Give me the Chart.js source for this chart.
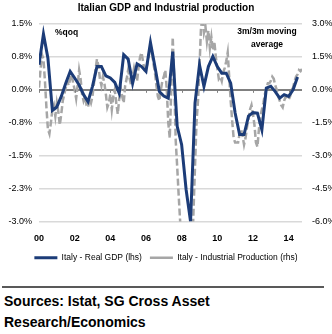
<!DOCTYPE html>
<html>
<head>
<meta charset="utf-8">
<script src="https://cdn.jsdelivr.net/npm/chart.js@4/dist/chart.umd.min.js"></script>
<style>
  body { margin: 0; background: #fff; width: 332px; height: 334px; overflow: hidden; }
  #wrap { position: relative; width: 332px; height: 276px; }
  #rule { position: absolute; left: 2px; top: 286px; width: 322px; height: 2px; background: #595959; }
  #src { position: absolute; left: 4px; top: 291px; font: bold 14px "Liberation Sans", Arial, sans-serif; line-height: 21px; color: #000; }
</style>
</head>
<body>
<div id="wrap"><canvas id="chart" width="332" height="276"></canvas></div>
<div id="rule"></div>
<div id="src">Sources: Istat, SG Cross Asset<br>Research/Economics</div>
<script>
// Italy real GDP, % q/q, 2000Q1 .. 2014Q3
const gdpStart = 2000;
const gdp = [
  0.57, 1.27, 0.72, -0.47, -0.39, -0.15, 0.15, 0.42,
  0.27, 0.11, -0.11, -0.27, 0.08, 0.53, 0.53, 0.32,
  0.27, 0.17, -0.08, 0.80, 0.70, 0.15, 0.59, 0.53,
  0.42, 1.08, 0.53, -0.04, -0.14, -0.19, 0.87, -0.83,
  -1.25, -2.27, -3.00, -0.30, 0.57, 0.08, 0.53, 0.76,
  0.53, 0.38, 0.38, 0.15, -0.53, -1.02, -1.02, -0.60,
  -0.52, -0.53, -0.91, 0.04, 0.08, -0.04, -0.19, -0.11,
  -0.15, 0.00, 0.29
];

// Italy industrial production, 3m/3m moving average, Jan 2000 .. Oct 2014
const ipStart = 2000;
const ip = [
  0.1, 0.9, 1.6, 1.4, 0.4, -0.8, -1.8, -2.0, -1.5, -0.9, -0.7, -1.2,
  -0.6, -1.0, -1.6, -1.1, -0.5, -0.2, 0.1, 0.4, 0.2, 0.5, 0.7, 0.3,
  0.0, -0.4, 0.2, 0.9, 0.5, -0.2, -0.5, -0.3, -0.7, -0.8, -0.4, -0.6,
  -0.3, 0.3, 0.9, 1.4, 1.1, 0.5, 0.2, 0.6, 0.3, -0.2, -0.8, -0.6,
  -0.2, -0.9, -0.3, 0.0, -0.6, -1.1, -0.4, 0.1, -0.3, -0.6, 0.2, 0.5,
  0.9, 0.5, 0.2, 0.6, 1.0, 0.7, 0.4, 1.0, 1.5, 1.7, 1.3, 0.9,
  0.9, 1.2, 1.6, 2.0, 1.7, 1.2, 0.8, 0.2, -0.3, -0.5, 0.0, 0.4,
  0.6, 0.9, 0.0, -1.5, -2.2, 0.0, 2.4, 0.5, -2.3, -3.5, -4.8, -6.0,
  -7.5, -9.0, -10.0, -11.0, -11.0, -10.0, -9.0, -7.5, -5.5, -3.5, -1.5, -0.5,
  1.0, 2.8, 3.3, 2.6, 2.9, 2.2, 2.7, 1.9, 2.4, 1.8, 2.2, 1.5,
  1.0, 0.5, 0.6, 0.4, 0.8, 1.0, 1.3, 1.7, 0.6, -0.5, -1.4, -2.2,
  -2.4, -2.4, -2.4, -2.0, -1.8, -2.1, -2.5, -2.2, -1.7, -1.3, -0.9, -0.7,
  -1.1, -1.6, -2.4, -2.6, -1.8, -1.2, -0.9, -0.6, -0.2, 0.1, 0.3, 0.3,
  0.4, 0.6, 0.5, 0.2, 0.0, -0.3, -0.5, -0.7, -0.8, -0.5, -0.3, -0.4,
  -0.45, -0.3, 0.0, 0.1, 0.4, 0.6, 0.7, 0.9, 0.85, 0.95
];

const yearTicks = [2000, 2002, 2004, 2006, 2008, 2010, 2012, 2014];
const leftTicks = [1.5, 0.75, 0, -0.75, -1.5, -2.25, -3];
const rightTicks = [3, 1.5, 0, -1.5, -3, -4.5, -6];

const family = '"Liberation Sans", Arial, sans-serif';

const gdpPoints = gdp.map((v, i) => ({ x: gdpStart + i / 4, y: v }));
const ipPoints = ip.map((v, i) => ({ x: ipStart + i / 12, y: v }));

// tick marks on the zero line plus the two text notes
const extras = {
  id: 'extras',
  afterDatasetsDraw(chart) {
    const { ctx, scales } = chart;
    const y0 = scales.y.getPixelForValue(0);
    ctx.save();
    ctx.strokeStyle = '#808080';
    ctx.lineWidth = 1;
    yearTicks.forEach(t => {
      const x = Math.round(scales.x.getPixelForValue(t)) + 0.5;
      ctx.beginPath();
      ctx.moveTo(x, y0);
      ctx.lineTo(x, y0 + 3);
      ctx.stroke();
    });
    ctx.fillStyle = '#000';
    ctx.font = 'bold 8.5px ' + family;
    ctx.textBaseline = 'middle';
    ctx.textAlign = 'left';
    ctx.fillText('%qoq', 55, 33);
    ctx.textAlign = 'center';
    ctx.fillText('3m/3m moving', 267, 32);
    ctx.fillText('average', 267, 45);
    ctx.restore();
  }
};

new Chart(document.getElementById('chart'), {
  type: 'line',
  data: {
    datasets: [{
      label: 'Italy - Real GDP (lhs)',
      data: gdpPoints,
      yAxisID: 'y',
      borderColor: '#1c3c78',
      borderWidth: 3,
      pointRadius: 0,
      pointStyle: 'line',
      tension: 0,
      order: 1
    }, {
      label: 'Italy - Industrial Production (rhs)',
      data: ipPoints,
      yAxisID: 'y1',
      borderColor: '#a6a6a6',
      borderWidth: 2.5,
      borderDash: [7, 3],
      pointRadius: 0,
      pointStyle: 'line',
      tension: 0,
      order: 2
    }]
  },
  options: {
    responsive: false,
    animation: false,
    layout: { padding: { left: 0, right: 0, top: 0, bottom: 4 } },
    plugins: {
      title: {
        display: true,
        text: 'Italian GDP and Industrial production',
        color: '#000',
        font: { family: family, size: 10, weight: 'bold' },
        padding: { top: 2, bottom: 10 }
      },
      legend: {
        position: 'bottom',
        labels: {
          color: '#000',
          font: { family: family, size: 8.5 },
          usePointStyle: true,
          pointStyleWidth: 23,
          boxHeight: 9,
          padding: 8
        }
      },
      tooltip: { enabled: false }
    },
    scales: {
      x: {
        type: 'linear',
        min: 2000,
        max: 2014.75,
        grid: { display: false, drawTicks: false },
        border: { display: false },
        afterBuildTicks: s => { s.ticks = yearTicks.map(v => ({ value: v })); },
        afterFit: s => { s.height = 24; },
        ticks: {
          color: '#000',
          font: { family: family, size: 9, weight: 'bold' },
          maxRotation: 0,
          padding: 12,
          callback: v => String(v).slice(2)
        }
      },
      y: {
        position: 'left',
        min: -3,
        max: 1.5,
        afterBuildTicks: s => { s.ticks = leftTicks.map(v => ({ value: v })); },
        afterFit: s => { s.width = 39; },
        grid: {
          drawTicks: false,
          color: c => c.tick.value === 0 ? '#808080' : '#d9d9d9',
          lineWidth: c => c.tick.value === 0 ? 2 : 1.5
        },
        border: { display: false },
        ticks: {
          color: '#000',
          font: { family: family, size: 9 },
          padding: 7,
          callback: v => v.toFixed(1) + '%'
        }
      },
      y1: {
        position: 'right',
        min: -6,
        max: 3,
        afterBuildTicks: s => { s.ticks = rightTicks.map(v => ({ value: v })); },
        afterFit: s => { s.width = 30; },
        grid: { display: false },
        border: { display: false },
        ticks: {
          color: '#000',
          font: { family: family, size: 9 },
          padding: 2,
          callback: v => v.toFixed(1) + '%'
        }
      }
    }
  },
  plugins: [extras]
});
</script>
</body>
</html>
